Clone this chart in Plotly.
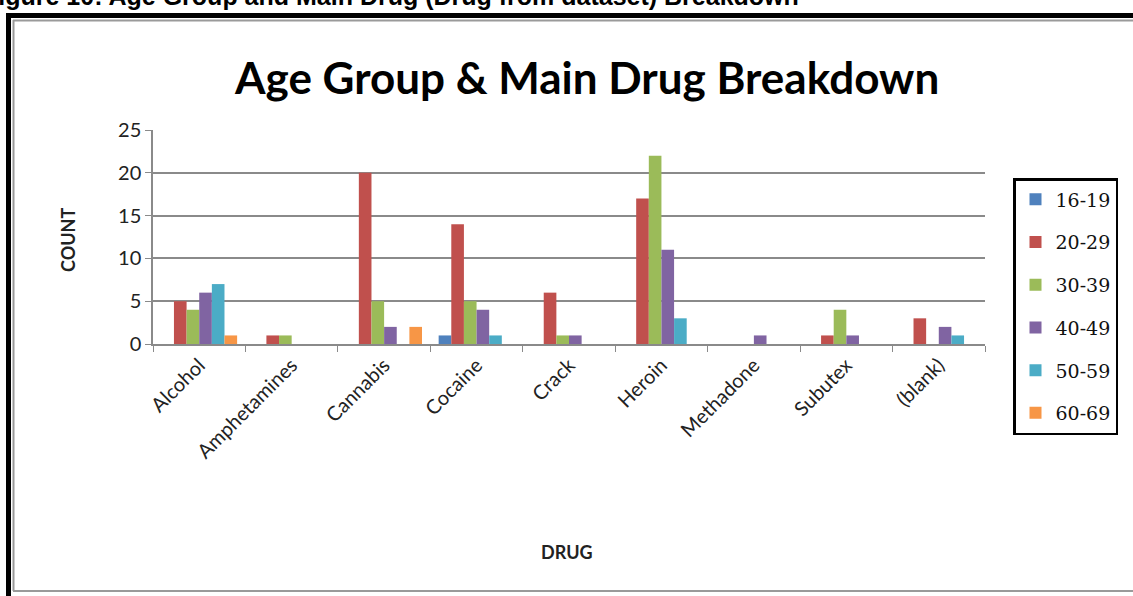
import plotly.graph_objects as go

# Drug categories and counts per age group
drugs = ["Alcohol", "Amphetamines", "Cannabis", "Cocaine", "Crack",
         "Heroin", "Methadone", "Subutex", "(blank)"]
age_groups = ["16-19", "20-29", "30-39", "40-49", "50-59", "60-69"]
counts_16_19 = [0, 0, 0, 1, 0, 0, 0, 0, 0]
counts_20_29 = [5, 1, 20, 14, 6, 17, 0, 1, 3]
counts_30_39 = [4, 1, 5, 5, 1, 22, 0, 4, 0]
counts_40_49 = [6, 0, 2, 4, 1, 11, 1, 1, 2]
counts_50_59 = [7, 0, 0, 1, 0, 3, 0, 0, 1]
counts_60_69 = [1, 0, 2, 0, 0, 0, 0, 0, 0]
y_ticks = [0, 5, 10, 15, 20, 25]

series = [counts_16_19, counts_20_29, counts_30_39,
          counts_40_49, counts_50_59, counts_60_69]
colors = ["#4F81BD", "#C0504D", "#9BBB59", "#8064A2", "#4BACC6", "#F79646"]

W, H = 1133, 596
PL, PR, PT, PB = 153, 985, 130, 344  # plot area in pixels


def px(x):
    return (x - PL) / (PR - PL)


def py(y):
    return (PB - y) / (PB - PT)


fig = go.Figure()
for name, vals, col in zip(age_groups, series, colors):
    fig.add_trace(go.Bar(x=drugs, y=vals, name=name, marker_color=col,
                         marker_line_width=0, legendgroup=name))

label_font = "Lato, 'Open Sans', sans-serif"

fig.update_layout(
    width=W, height=H,
    margin=dict(l=PL, r=W - PR, t=PT, b=H - PB, pad=0),
    paper_bgcolor="white", plot_bgcolor="white",
    barmode="group", bargap=0.18, bargroupgap=0,
    showlegend=True,
    legend=dict(x=px(1013), y=py(178), xanchor="left", yanchor="top",
                bordercolor="black", borderwidth=2.5, bgcolor="white",
                font=dict(family="'DejaVu Serif', serif", size=19, color="#111"),
                tracegroupgap=15, itemwidth=30, maxheight=500),
    xaxis=dict(showgrid=False, showline=True, linecolor="#8a8a8a", linewidth=1.5,
               ticks="outside", tickson="boundaries", ticklen=6, tickcolor="#8a8a8a",
               tickangle=-45, tickfont=dict(family=label_font, size=20, color="#222")),
    yaxis=dict(range=[0, 25], tickvals=y_ticks, showgrid=True, gridcolor="#8a8a8a",
               gridwidth=1.5, showline=True, linecolor="#8a8a8a", linewidth=1.5,
               ticks="outside", ticklen=6, tickcolor="#8a8a8a", zeroline=False,
               tickfont=dict(family=label_font, size=20, color="#222")),
    font=dict(family=label_font),
)

# Chart title, axis titles and surrounding caption
fig.add_annotation(text="<b>Age Group & Main Drug Breakdown</b>", xref="paper", yref="paper",
                   x=px(586), y=py(77), xanchor="center", yanchor="middle", showarrow=False,
                   font=dict(family=label_font, size=44, color="black"))
fig.add_annotation(text="<b>Figure 10: Age Group and Main Drug (Drug from dataset) Breakdown</b>",
                   xref="paper", yref="paper", x=px(-19), y=py(12), xanchor="left",
                   yanchor="bottom", showarrow=False,
                   font=dict(family="'Liberation Sans', Arial, sans-serif", size=25, color="black"))
fig.add_annotation(text="<b>DRUG</b>", xref="paper", yref="paper",
                   x=px(567), y=py(552), xanchor="center", yanchor="middle", showarrow=False,
                   font=dict(family=label_font, size=18, color="#222"))
fig.add_annotation(text="<b>COUNT</b>", xref="paper", yref="paper", textangle=-90,
                   x=px(68), y=py(240), xanchor="center", yanchor="middle", showarrow=False,
                   font=dict(family=label_font, size=18, color="#222"))

# Frame around the chart
frame = [
    (8.5, 15, 8.5, 600, "black", 5),
    (6, 15.5, 1140, 15.5, "black", 5),
    (13.5, 20, 13.5, 591, "#9a9a9a", 2),
    (13, 20.5, 1140, 20.5, "#9a9a9a", 2),
    (13, 591, 1140, 591, "#9a9a9a", 2),
]
for x0, y0, x1, y1, col, w in frame:
    fig.add_shape(type="line", xref="paper", yref="paper",
                  x0=px(x0), y0=py(y0), x1=px(x1), y1=py(y1),
                  line=dict(color=col, width=w), layer="above")

fig.write_html("out.html")
